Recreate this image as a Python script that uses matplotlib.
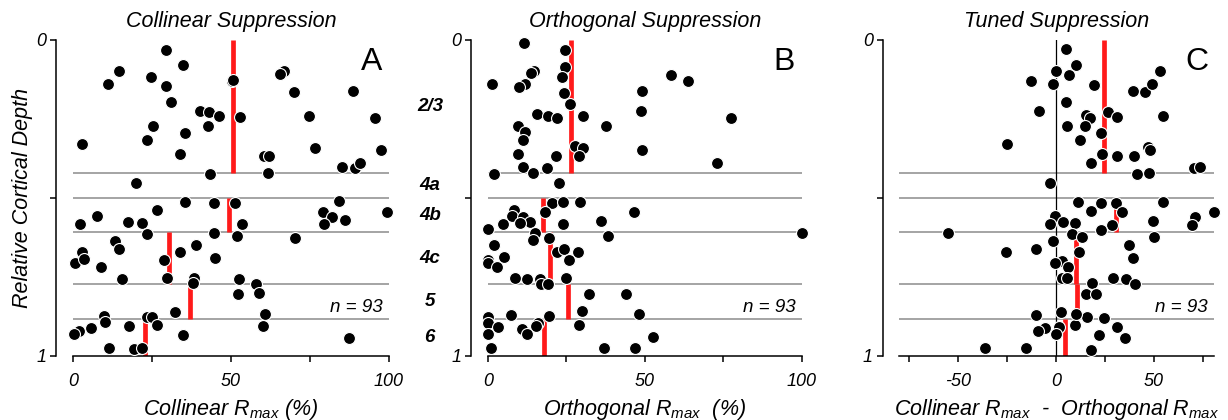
import numpy as np
import matplotlib
matplotlib.use('Agg')
import matplotlib.pyplot as plt
import matplotlib.transforms as mtransforms

plt.rcParams['font.family'] = ['Liberation Sans', 'DejaVu Sans']
plt.rcParams['mathtext.fontset'] = 'custom'
plt.rcParams['mathtext.rm'] = 'Liberation Sans:italic'
plt.rcParams['mathtext.it'] = 'Liberation Sans:italic'
plt.rcParams['axes.unicode_minus'] = False

# layers (relative cortical depth)
layer_names = ['2/3', '4a', '4b', '4c', '5', '6']
layer_edges = [0.0, 0.422, 0.5, 0.609, 0.773, 0.882, 1.0]

# collinear suppression
coll_x = [29.3, 34.7, 14.7, 11.2, 24.7, 29.6, 31.1, 50.4, 50.6, 66.9, 65.5, 70.1, 88.7, 40.2, 43.0, 46.1, 53.0, 74.7,
          95.6, 25.3, 42.9, 35.6, 3.0, 23.4, 33.9, 60.4, 62.0, 76.5, 97.4, 85.1, 89.2, 91.0, 43.4, 61.6, 20.1,
          35.5, 44.6, 51.3, 84.3, 26.5, 7.5, 2.1, 17.4, 22.0, 23.3, 53.4, 79.2, 82.1, 79.5, 86.1, 99.4, 44.6, 52.0,
          70.3, 13.3, 14.7, 39.1, 33.9, 3.0, 0.6, 3.5, 8.8, 45.1, 28.9, 15.5, 29.9, 38.2, 37.9, 52.5, 58.0, 52.1,
          58.8, 32.4, 60.7, 60.1, 9.7, 10.1, 23.3, 25.1, 26.6, 17.8, 5.6, 2.0, 0.3, 34.7, 87.4, 11.5, 19.3, 21.7]
coll_depth = [0.032, 0.079, 0.099, 0.138, 0.116, 0.145, 0.197, 0.130, 0.128, 0.098, 0.109, 0.166, 0.161, 0.225, 0.229,
              0.239, 0.244, 0.239, 0.248, 0.271, 0.271, 0.294, 0.330, 0.315, 0.362, 0.366, 0.366, 0.343, 0.348, 0.402,
              0.406, 0.390, 0.425, 0.421, 0.454,
              0.512, 0.516, 0.516, 0.510, 0.539, 0.557, 0.583, 0.576, 0.579, 0.615, 0.583, 0.545, 0.561, 0.583, 0.570,
              0.545, 0.611, 0.620, 0.626, 0.635, 0.663, 0.649, 0.670, 0.670, 0.706, 0.694, 0.717, 0.690, 0.697, 0.757,
              0.754, 0.752, 0.770, 0.757, 0.771, 0.803, 0.802, 0.862, 0.867, 0.906, 0.872, 0.893, 0.876, 0.878, 0.902,
              0.906, 0.911, 0.921, 0.929, 0.934, 0.943, 0.975, 0.979, 0.975]
coll_median = [50.8, np.nan, 49.5, 30.4, 37.2, 22.8]

# orthogonal suppression
orth_x = [11.5, 24.7, 24.7, 14.7, 13.9, 1.4, 11.9, 10.1, 23.5, 24.3, 26.3, 15.6, 19.2, 22.2, 30.4, 37.7, 49.0, 48.7,
          58.4, 63.9, 77.6, 9.6, 11.9, 11.1, 27.7, 30.4, 29.0, 49.1, 9.7, 21.6, 11.2, 14.4, 19.0, 73.1, 2.0, 22.6,
          20.6, 24.0, 29.5, 18.1, 8.3, 7.7, 11.2, 13.3, 10.4, 4.7, 0.0, 23.9, 36.2, 46.5, 100.0, 38.2, 14.9, 14.4,
          19.4, 1.9, 21.9, 24.3, 28.6, 5.1, 0.2, 0.0, 3.0, 25.9, 8.7, 12.5, 16.5, 17.1, 19.2, 24.8, 32.2, 44.1,
          29.9, 48.1, 7.5, 0.0, 0.0, 3.2, 19.4, 16.0, 15.5, 11.0, 12.5, 29.0, 0.0, 52.5, 0.9, 36.9, 46.9]
orth_depth = [0.008, 0.032, 0.084, 0.099, 0.105, 0.138, 0.138, 0.148, 0.116, 0.167, 0.203, 0.233, 0.239, 0.248, 0.239,
              0.271, 0.161, 0.225, 0.112, 0.130, 0.248, 0.271, 0.292, 0.316, 0.335, 0.343, 0.367, 0.348, 0.362, 0.367,
              0.401, 0.422, 0.406, 0.389, 0.425, 0.454,
              0.517, 0.512, 0.512, 0.543, 0.538, 0.557, 0.561, 0.575, 0.580, 0.583, 0.597, 0.583, 0.573, 0.544, 0.612,
              0.620, 0.612, 0.633, 0.626, 0.648, 0.670, 0.663, 0.670, 0.688, 0.697, 0.707, 0.717, 0.697, 0.754, 0.756,
              0.757, 0.772, 0.772, 0.754, 0.804, 0.804, 0.857, 0.867, 0.871, 0.876, 0.895, 0.907, 0.872, 0.897, 0.906,
              0.916, 0.929, 0.902, 0.931, 0.939, 0.975, 0.975, 0.975]
orth_median = [26.5, np.nan, 17.7, 19.7, 25.6, 17.8]

# tuned suppression (collinear - orthogonal)
tuned_x = [5.0, 10.1, 0.2, 6.9, -12.9, -1.2, 19.6, 5.0, -8.4, 15.6, 17.7, 26.9, 31.4, 5.7, 15.1, 23.2, 12.2, -24.7,
           23.8, 31.4, 18.2, 39.6, 45.5, 49.2, 53.2, 54.9, 40.1, 47.3, 48.2, 41.7, 47.5, 70.5, 73.9, -2.7,
           11.5, 23.2, 30.7, 54.7, 18.0, 33.6, -0.2, -2.7, 3.9, 9.8, 28.8, 23.2, 49.9, 80.8, 71.4, 69.6, -55.2, 8.4,
           13.6, 50.4, -1.2, 37.2, -25.6, -9.9, 11.7, 39.6, 3.3, -0.2, 6.5, 3.1, 5.7, 18.7, 29.3, 35.7, 40.3, 15.3,
           20.4, -10.1, 2.7, 16.0, 24.9, 9.9, -5.5, -9.1, 1.5, 0.2, 31.2, 22.3, 35.2, -36.2, -15.3, 18.0, 10.5]
tuned_depth = [0.030, 0.079, 0.099, 0.111, 0.129, 0.138, 0.143, 0.197, 0.225, 0.237, 0.248, 0.229, 0.245, 0.271, 0.271,
               0.294, 0.315, 0.330, 0.362, 0.367, 0.390, 0.161, 0.166, 0.139, 0.098, 0.239, 0.366, 0.340, 0.348,
               0.425, 0.422, 0.406, 0.401, 0.454,
               0.512, 0.517, 0.517, 0.512, 0.540, 0.545, 0.557, 0.583, 0.576, 0.579, 0.586, 0.600, 0.572, 0.544,
               0.561, 0.586, 0.612, 0.615, 0.623, 0.624, 0.635, 0.649, 0.671, 0.663, 0.671, 0.690, 0.699, 0.707,
               0.718, 0.754, 0.752, 0.770, 0.754, 0.757, 0.772, 0.804, 0.804, 0.870, 0.862, 0.876, 0.879, 0.902,
               0.910, 0.921, 0.907, 0.930, 0.907, 0.934, 0.943, 0.976, 0.975, 0.980, 0.866]
tuned_median = [24.5, np.nan, 31.0, 10.5, 11.1, 4.5]

titles = ['Collinear Suppression', 'Orthogonal Suppression', 'Tuned Suppression']
xlabels = ['Collinear $R_{max}$ (%)', 'Orthogonal $R_{max}$  (%)',
           'Collinear $R_{max}$  -  Orthogonal $R_{max}$']
letters = ['A', 'B', 'C']
n_cells = 93

fig = plt.figure(figsize=(12.28, 4.2), dpi=100)
positions = [[0.0594, 0.1524, 0.2573, 0.7524],
             [0.3972, 0.1524, 0.2557, 0.7524],
             [0.7323, 0.1524, 0.2565, 0.7524]]
xlims = [(0, 100), (0, 100), (-80, 81)]
major = [[0, 50, 100], [0, 50, 100], [-50, 0, 50]]
minor = [[25, 75], [25, 75], [-75, -25, 25, 75]]
datasets = [(coll_x, coll_depth, coll_median),
            (orth_x, orth_depth, orth_median),
            (tuned_x, tuned_depth, tuned_median)]

axes = []
for i in range(3):
    ax = fig.add_axes(positions[i])
    xs, ds, med = datasets[i]
    ax.set_xlim(xlims[i])
    ax.set_ylim(1.0, 0.0)

    # layer boundaries
    for e in layer_edges[1:-1]:
        ax.axhline(e, color='#8c8c8c', linewidth=1.1, zorder=1)
    if i == 2:
        ax.plot([0, 0], [0, 1], color='black', linewidth=0.9, zorder=1)

    # medians per layer
    for k in range(len(layer_names)):
        if not np.isnan(med[k]):
            ax.plot([med[k], med[k]], [layer_edges[k], layer_edges[k + 1]],
                    color='#ff1a1a', linewidth=3.4, solid_capstyle='butt', zorder=2)

    ax.scatter(xs, ds, s=74, c='black', edgecolors='white', linewidths=0.8,
               zorder=3, clip_on=False)

    for s in ['top', 'right']:
        ax.spines[s].set_visible(False)
    ax.spines['left'].set_position(('outward', 12))
    ax.spines['left'].set_linewidth(1.1)
    ax.spines['bottom'].set_linewidth(1.1)

    ax.set_yticks([0, 0.5, 1])
    ax.set_yticklabels(['0', '', '1'])
    ax.set_xticks(major[i])
    ax.set_xticks(minor[i], minor=True)
    ax.tick_params(axis='y', length=4, width=1.1, pad=3, labelsize=13)
    ax.tick_params(axis='x', which='both', length=4, width=1.1, pad=8, labelsize=13)
    for lab in ax.get_xticklabels() + ax.get_yticklabels():
        lab.set_fontstyle('italic')

    ax.set_title(titles[i], fontsize=15.5, style='italic', pad=9)
    ax.set_xlabel(xlabels[i], fontsize=15.5, style='italic', labelpad=5)
    ax.text(0.945, 0.93, letters[i], transform=ax.transAxes, fontsize=23,
            ha='center', va='center')
    ax.text(0.98, 0.155, 'n = %d' % n_cells, transform=ax.transAxes, fontsize=13.5,
            style='italic', ha='right', va='center')
    axes.append(ax)

axes[0].set_ylabel('Relative Cortical Depth', fontsize=15.5, style='italic')
axes[0].yaxis.set_label_coords(-0.126, 0.5)

# layer names between panels A and B
trans = mtransforms.blended_transform_factory(fig.transFigure, axes[1].transData)
for k, name in enumerate(layer_names):
    yc = (layer_edges[k] + layer_edges[k + 1]) / 2
    fig.text(0.350, yc, name, transform=trans, fontsize=13.5, style='italic',
             weight='bold', ha='center', va='center')

fig.savefig('out.png', dpi=100)
